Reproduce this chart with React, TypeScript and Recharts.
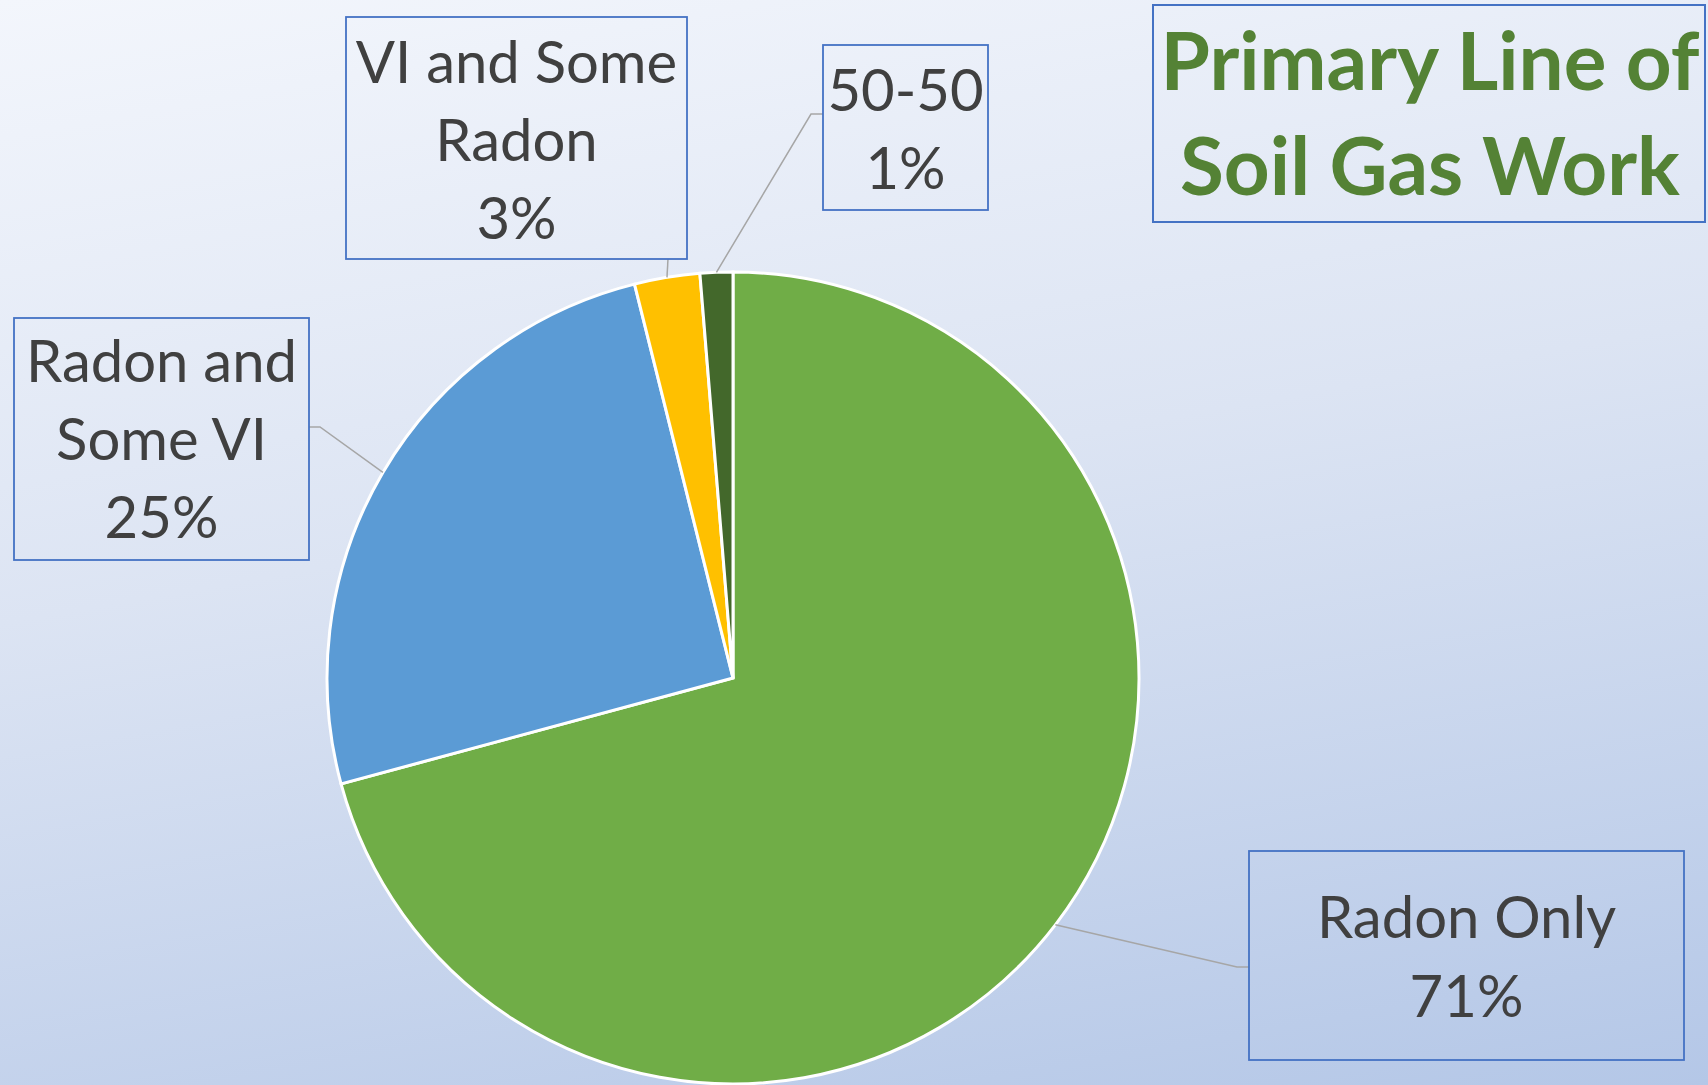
import React from 'react';
import { PieChart, Pie, Cell } from 'recharts';

const categories = ['Radon Only', 'Radon and Some VI', 'VI and Some Radon', '50-50'];
const shares = [70.8, 25.3, 2.6, 1.3];
const colors = ['#70AD47', '#5B9BD5', '#FFC000', '#43682B'];
const labelTextLines: string[][] = [['Radon Only'], ['Radon and', 'Some VI'], ['VI and Some', 'Radon'], ['50-50']];
const titleLines = ['Primary Line of', 'Soil Gas Work'];

const data = categories.map((name, i) => ({ name, value: shares[i] }));

const W = 1708;
const H = 1085;
const FONT = 'Lato, "Noto Sans", sans-serif';

// layout of the label boxes (position/size only)
const boxes = [
  { x: 1249, y: 851, w: 435, h: 209, base: 938, lineH: 79, elbow: [1237, 967], end: [1249, 967] },
  { x: 14, y: 318, w: 295, h: 242, base: 382, lineH: 78, elbow: [320, 427], end: [309, 427] },
  { x: 346, y: 17, w: 341, h: 242, base: 83, lineH: 78, elbow: [668, 259], end: [668, 259] },
  { x: 823, y: 45, w: 165, h: 165, base: 111, lineH: 78, elbow: [811, 114], end: [823, 114] },
];

const RAD = Math.PI / 180;

const renderLabel = (props: any) => {
  const { cx, cy, midAngle, outerRadius, percent, index } = props;
  const b = boxes[index];
  const sx = cx + outerRadius * Math.cos(-midAngle * RAD);
  const sy = cy + outerRadius * Math.sin(-midAngle * RAD);
  const lines = [...labelTextLines[index], `${Math.round(percent * 100)}%`];
  const mx = b.x + b.w / 2;
  return (
    <g key={`lbl-${index}`}>
      <polyline
        points={`${sx},${sy} ${b.elbow[0]},${b.elbow[1]} ${b.end[0]},${b.end[1]}`}
        fill="none"
        stroke="#A6A6A6"
        strokeWidth={1.5}
      />
      <rect x={b.x} y={b.y} width={b.w} height={b.h} fill="none" stroke="#4472C4" strokeWidth={1.8} />
      {lines.map((t, i) => (
        <text
          key={i}
          x={mx}
          y={b.base + i * b.lineH}
          textAnchor="middle"
          fontFamily={FONT}
          fontSize={58}
          fill="#404040"
        >
          {t}
        </text>
      ))}
    </g>
  );
};

export default function App() {
  return (
    <div
      style={{
        position: 'fixed',
        left: 0,
        top: 0,
        width: W,
        height: H,
        background: 'linear-gradient(170deg, #F3F6FC 0%, #DCE4F3 45%, #B4C7E7 100%)',
        overflow: 'hidden',
      }}
    >
      <PieChart
        width={W}
        height={H}
        margin={{ top: 0, right: 0, bottom: 0, left: 0 }}
        style={{ position: 'absolute', left: 0, top: 0 }}
      >
        <Pie
          data={data}
          dataKey="value"
          nameKey="name"
          cx={733}
          cy={678}
          outerRadius={406}
          startAngle={90}
          endAngle={-270}
          stroke="#FFFFFF"
          strokeWidth={3}
          isAnimationActive={false}
          labelLine={false}
          label={renderLabel}
        >
          {data.map((d, i) => (
            <Cell key={d.name} fill={colors[i]} />
          ))}
        </Pie>
      </PieChart>
      <svg width={W} height={H} style={{ position: 'absolute', left: 0, top: 0, pointerEvents: 'none' }}>
        <rect x={1153} y={5} width={552} height={217} fill="none" stroke="#4472C4" strokeWidth={2} />
        {titleLines.map((t, i) => (
          <text
            key={t}
            x={1430}
            y={90 + i * 105}
            textAnchor="middle"
            fontFamily={FONT}
            fontWeight={700}
            fontSize={80}
            fill="#548235"
          >
            {t}
          </text>
        ))}
      </svg>
    </div>
  );
}
